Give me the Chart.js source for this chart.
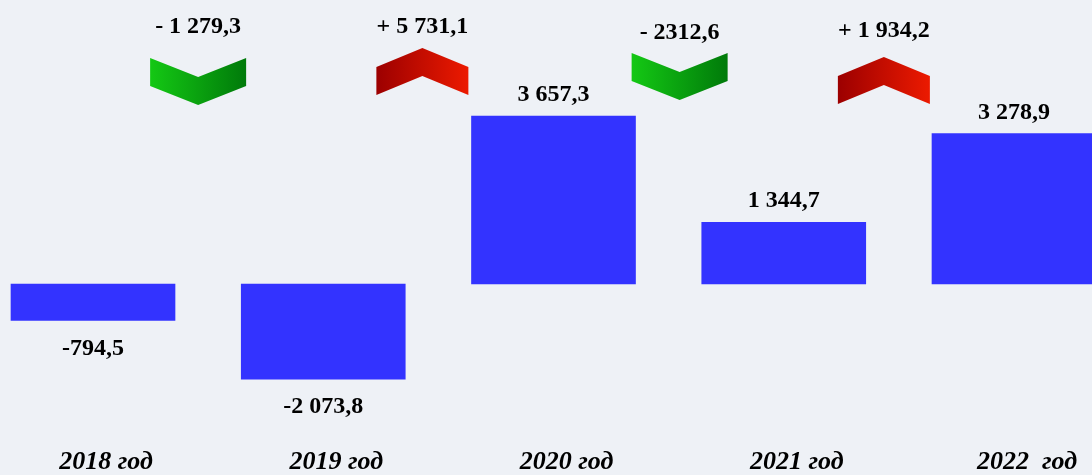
<!DOCTYPE html>
<html>
<head>
<meta charset="utf-8">
<script src="https://cdn.jsdelivr.net/npm/chart.js@4/dist/chart.umd.min.js"></script>
<style>
    html, body { margin: 0; padding: 0; background: #eef1f6; }
    #wrap { width: 1092px; height: 475px; position: relative; }
</style>
</head>
<body>
<div id="wrap"><canvas id="chart"></canvas></div>
<script>
// Data
const categories = ['2018 год', '2019 год', '2020 год', '2021 год', '2022  год'];
const values = [-794.5, -2073.8, 3657.3, 1344.7, 3278.9];
const valueLabels = ['-794,5', '-2 073,8', '3 657,3', '1 344,7', '3 278,9'];
const changes = [-1279.3, 5731.1, -2312.6, 1934.2];
const changeLabels = ['- 1 279,3', '+ 5 731,1', '- 2312,6', '+ 1 934,2'];

const SERIF = '"Liberation Serif", "Times New Roman", serif';

// hand placement of the arrows, as in the slide
const arrowDx = [-10, -16, 11, -15];
const arrowDy = [2, -4, -3, 5];
const labelDy = [-2, -2, 4, 2];

// Labels and arrows
const overlay = {
    id: 'overlay',
    afterDatasetsDraw(chart) {
        const ctx = chart.ctx;
        const x = chart.scales.x;
        const meta = chart.getDatasetMeta(0);
        ctx.save();
        ctx.fillStyle = '#000';
        ctx.textAlign = 'center';
        ctx.textBaseline = 'middle';

        // values
        ctx.font = 'bold 24px ' + SERIF;
        meta.data.forEach((bar, i) => {
            const y = values[i] < 0 ? bar.y + 28 : bar.y - 21;
            ctx.fillText(valueLabels[i], bar.x, y);
        });

        // years
        ctx.font = 'italic bold 26px ' + SERIF;
        categories.forEach((c, i) => {
            ctx.fillText(c, x.getPixelForValue(i) + 13, 462);
        });

        // changes
        changes.forEach((d, i) => {
            const cx = x.getPixelForValue(i + 0.5) + arrowDx[i];
            ctx.fillStyle = '#000';
            ctx.font = 'bold 24px ' + SERIF;
            ctx.fillText(changeLabels[i], cx, 29 + labelDy[i]);
            drawChevron(ctx, cx, d < 0, arrowDy[i]);
        });
        ctx.restore();
    }
};

function drawChevron(ctx, cx, down, dy) {
    const w = down ? 48 : 46;
    const t = 28;
    const g = ctx.createLinearGradient(cx - w, 0, cx + w, 0);
    if (down) {
        g.addColorStop(0, '#14c814');
        g.addColorStop(1, '#007a0a');
    } else {
        g.addColorStop(0, '#9c0000');
        g.addColorStop(1, '#ec1a00');
    }
    ctx.fillStyle = g;
    ctx.beginPath();
    if (down) {
        const top = 56 + dy;
        ctx.moveTo(cx - w, top);
        ctx.lineTo(cx, top + 19);
        ctx.lineTo(cx + w, top);
        ctx.lineTo(cx + w, top + t);
        ctx.lineTo(cx, top + 19 + t);
        ctx.lineTo(cx - w, top + t);
    } else {
        const top = 52 + dy;
        ctx.moveTo(cx - w, top + 19);
        ctx.lineTo(cx, top);
        ctx.lineTo(cx + w, top + 19);
        ctx.lineTo(cx + w, top + 19 + t);
        ctx.lineTo(cx, top + t);
        ctx.lineTo(cx - w, top + 19 + t);
    }
    ctx.closePath();
    ctx.fill();
}

const firstCenter = 93;
const step = 230.25;
const pxPerUnit = 0.0459;
const zeroY = 284;

new Chart(document.getElementById('chart'), {
    type: 'bar',
    data: {
        datasets: [{
            data: values.map((v, i) => ({ x: i, y: v })),
            backgroundColor: '#3333ff',
            borderWidth: 0,
            barThickness: 164
        }]
    },
    options: {
        responsive: true,
        maintainAspectRatio: false,
        animation: false,
        layout: { padding: 0 },
        plugins: {
            legend: { display: false },
            tooltip: { enabled: false }
        },
        scales: {
            x: {
                type: 'linear',
                display: false,
                offset: false,
                bounds: 'data',
                min: -firstCenter / step,
                max: (1092 - firstCenter) / step
            },
            y: {
                display: false,
                min: -(475 - zeroY) / pxPerUnit,
                max: zeroY / pxPerUnit
            }
        }
    },
    plugins: [overlay]
});
</script>
</body>
</html>
